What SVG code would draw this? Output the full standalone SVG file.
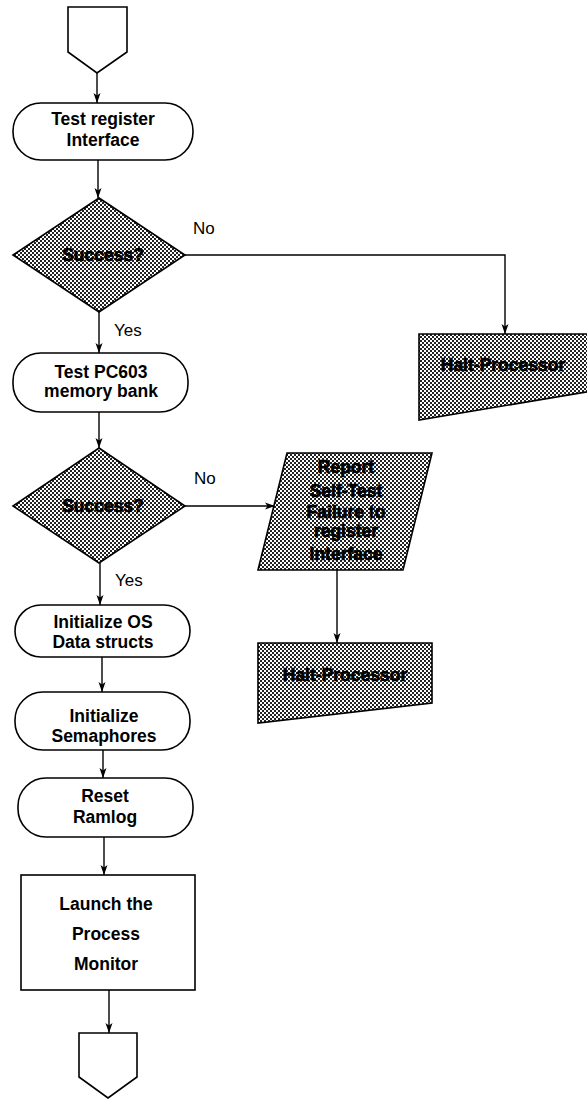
<svg xmlns="http://www.w3.org/2000/svg" width="587" height="1100" viewBox="0 0 587 1100">
  <style>
    .shape { fill: #fff; stroke: #000; stroke-width: 1.6; }
    .hatch { fill: url(#dots); stroke: #000; stroke-width: 1.6; }
    .lbl { font-family: "Liberation Sans", Arial, sans-serif; font-size: 17.5px; font-weight: bold; fill: #000; text-anchor: middle; }
    .dark { stroke: #000; stroke-width: 0.7; }
    .note { font-family: "Liberation Sans", Arial, sans-serif; font-size: 17px; fill: #000; }
    .wire { fill: none; stroke: #000; stroke-width: 1.4; }
  </style>
  <defs>
    <pattern id="dots" width="4" height="4" patternUnits="userSpaceOnUse">
      <rect width="4" height="4" fill="#fff"/>
      <rect x="0" y="0" width="2" height="2" fill="#222"/>
      <rect x="2" y="2" width="2" height="2" fill="#222"/>
    </pattern>
    <marker id="arrow" markerWidth="11" markerHeight="8" refX="10" refY="4" orient="auto" markerUnits="userSpaceOnUse">
      <path d="M0,0.5 L10,4 L0,7.5 L2.5,4 z" fill="#000"/>
    </marker>
  </defs>

  <!-- connectors -->
  <g id="connectors" class="wire">
    <path d="M97,73 V103" marker-end="url(#arrow)"/>
    <path d="M98,160 V198" marker-end="url(#arrow)"/>
    <path d="M185,255 H505 V334" marker-end="url(#arrow)"/>
    <path d="M99,312 V353" marker-end="url(#arrow)"/>
    <path d="M99,412 V448" marker-end="url(#arrow)"/>
    <path d="M185,506 H275" marker-end="url(#arrow)"/>
    <path d="M100,563 V605" marker-end="url(#arrow)"/>
    <path d="M337,570 V643" marker-end="url(#arrow)"/>
    <path d="M102,657 V692" marker-end="url(#arrow)"/>
    <path d="M103,750 V778" marker-end="url(#arrow)"/>
    <path d="M104,837 V875" marker-end="url(#arrow)"/>
    <path d="M109,990 V1033" marker-end="url(#arrow)"/>
  </g>

  <!-- branch labels -->
  <g id="labels">
    <text class="note" x="193" y="234">No</text>
    <text class="note" x="114" y="336">Yes</text>
    <text class="note" x="194" y="484">No</text>
    <text class="note" x="115" y="586">Yes</text>
  </g>

  <g id="start">
    <path class="shape" d="M68,7 H127 V52 L97,73 L68,52 Z"/>
  </g>

  <g id="test-register">
    <rect class="shape" x="13" y="103" width="180" height="57" rx="28" ry="28"/>
    <text class="lbl" x="103" y="125">Test register</text>
    <text class="lbl" x="103" y="146">Interface</text>
  </g>

  <g id="success-1">
    <path class="hatch" d="M99,198 L185,255 L99,312 L13,255 Z"/>
    <text class="lbl dark" x="103" y="261">Success?</text>
  </g>

  <g id="halt-1">
    <path class="hatch" d="M419,334 H592 V391 L419,420 Z"/>
    <text class="lbl dark" x="503" y="371">Halt-Processor</text>
  </g>

  <g id="test-memory">
    <rect class="shape" x="13" y="353" width="175" height="59" rx="28" ry="28"/>
    <text class="lbl" x="101" y="378">Test PC603</text>
    <text class="lbl" x="101" y="397">memory bank</text>
  </g>

  <g id="success-2">
    <path class="hatch" d="M99,448 L185,506 L99,563 L13,506 Z"/>
    <text class="lbl dark" x="103" y="512">Success?</text>
  </g>

  <g id="report-failure">
    <path class="hatch" d="M287,453 H432 L403,570 H258 Z"/>
    <text class="lbl dark" x="346" y="473">Report</text>
    <text class="lbl dark" x="346" y="497">Self-Test</text>
    <text class="lbl dark" x="346" y="518">Failure to</text>
    <text class="lbl dark" x="346" y="537">register</text>
    <text class="lbl dark" x="346" y="560">Interface</text>
  </g>

  <g id="halt-2">
    <path class="hatch" d="M258,643 H432 V703 L258,723 Z"/>
    <text class="lbl dark" x="345" y="681">Halt-Processor</text>
  </g>

  <g id="init-os">
    <rect class="shape" x="15" y="605" width="175" height="52" rx="26" ry="26"/>
    <text class="lbl" x="103" y="628">Initialize OS</text>
    <text class="lbl" x="103" y="648">Data structs</text>
  </g>

  <g id="init-semaphores">
    <rect class="shape" x="15" y="692" width="175" height="58" rx="28" ry="28"/>
    <text class="lbl" x="104" y="722">Initialize</text>
    <text class="lbl" x="104" y="742">Semaphores</text>
  </g>

  <g id="reset-ramlog">
    <rect class="shape" x="18" y="778" width="175" height="59" rx="28" ry="28"/>
    <text class="lbl" x="105" y="802">Reset</text>
    <text class="lbl" x="105" y="823">Ramlog</text>
  </g>

  <g id="launch-monitor">
    <rect class="shape" x="21" y="875" width="174" height="115"/>
    <text class="lbl" x="106" y="910">Launch the</text>
    <text class="lbl" x="106" y="940">Process</text>
    <text class="lbl" x="106" y="970">Monitor</text>
  </g>

  <g id="end">
    <path class="shape" d="M79,1033 H137 V1077 L108,1098 L79,1077 Z"/>
  </g>
</svg>
